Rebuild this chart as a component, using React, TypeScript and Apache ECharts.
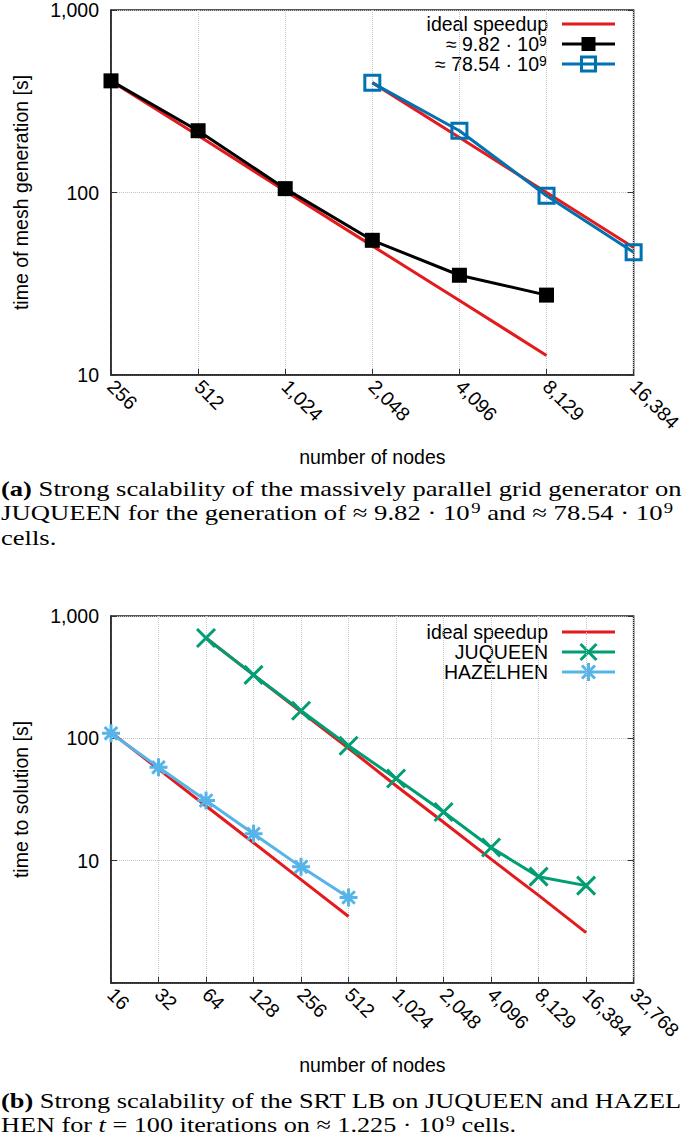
import React, { useEffect, useRef } from "react";
import * as echarts from "echarts";

// ---------- data ----------
const catsA = ["256", "512", "1,024", "2,048", "4,096", "8,129", "16,384"];
const idealA1 = [409, 205, 102, 51, 25.6, 12.8, null];
const idealA2 = [null, null, null, 400, 200, 100, 50];
const mesh982 = [409, 218, 105, 54.7, 35.2, 27.4, null];
const mesh7854 = [null, null, null, 399, 218, 96, 47];

const catsB = ["16", "32", "64", "128", "256", "512", "1,024", "2,048", "4,096", "8,129", "16,384", "32,768"];
const idealB1 = [112, 56, 28, 14, 7, 3.5, null, null, null, null, null, null];
const idealB2 = [null, null, 661, 330, 165, 83, 41, 20.6, 10.3, 5.2, 2.58, null];
const juqueen = [null, null, 661, 330, 168, 87, 47, 25, 12.8, 7.4, 6.25, null];
const hazelhen = [110, 58, 31, 16.6, 8.9, 5.0, null, null, null, null, null, null];

const RED = "#e41a1c";
const BLACK = "#000000";
const BLUE = "#0072b2";
const GREEN = "#009e73";
const LBLUE = "#56b4e9";

const SANS = "'Liberation Sans', Arial, sans-serif";
const SERIF = "'Liberation Serif', 'Times New Roman', serif";
const FS = 19.5;
const CFS = 22;

const fmt = (v: number) => (v < 10 ? "" : Math.round(v).toLocaleString("en-US"));

function measure(parts: [string, string][]) {
  const c = document.createElement("canvas").getContext("2d")!;
  let w = 0;
  for (const [kind, t] of parts) {
    const size = kind === "s" ? CFS * 0.7 : CFS;
    const pre = kind === "b" ? "bold " : kind === "i" ? "italic " : "";
    c.font = `${pre}${size}px ${SERIF}`;
    w += c.measureText(t).width + (kind === "s" ? 1 : 0);
  }
  return w;
}

export default function App() {
  const ref = useRef<HTMLDivElement>(null);
  useEffect(() => {
    document.body.style.margin = "0";
    const chart = echarts.init(ref.current!, undefined, { renderer: "svg" });

    const grids = [
      { left: 111, top: 9, width: 528, height: 366 },
      { left: 111, top: 616, width: 528, height: 367 },
    ].map((g) => ({ ...g, show: true, borderColor: "#222", borderWidth: 1.5, backgroundColor: "transparent" }));

    const xAxisBase = (gi: number, data: string[]) => ({
      type: "category",
      gridIndex: gi,
      data,
      boundaryGap: false,
      axisLine: { show: true, lineStyle: { color: "#222", width: 1.5 } },
      axisTick: { show: true, inside: true, length: 6, lineStyle: { color: "#333" } },
      axisLabel: { rotate: -45, fontSize: FS, fontFamily: SANS, color: "#000", margin: 8, interval: 0 },
      splitLine: { show: true, lineStyle: { type: "dotted", color: "#c4c4c4", width: 1 } },
      name: "number of nodes",
      nameLocation: "middle",
      nameGap: 72,
      nameTextStyle: { fontSize: FS, fontFamily: SANS, color: "#000" },
    });

    const yAxisBase = (gi: number, min: number, name: string) => ({
      type: "log",
      logBase: 10,
      gridIndex: gi,
      min,
      max: 1000,
      axisLine: { show: true, lineStyle: { color: "#222", width: 1.5 } },
      axisTick: { show: true, inside: true, length: 6, lineStyle: { color: "#333" } },
      minorTick: { show: false },
      axisLabel: { fontSize: FS, fontFamily: SANS, color: "#000", margin: 12, formatter: fmt },
      splitLine: { show: true, lineStyle: { type: "dotted", color: "#c4c4c4", width: 1 } },
      name,
      nameLocation: "middle",
      nameGap: 80,
      nameTextStyle: { fontSize: FS, fontFamily: SANS, color: "#000" },
    });

    const yRight = (gi: number, min: number) => ({
      type: "log",
      logBase: 10,
      gridIndex: gi,
      position: "right",
      min,
      max: 1000,
      axisLine: { show: false },
      axisTick: { show: true, inside: true, length: 6, lineStyle: { color: "#333" } },
      axisLabel: { show: false },
      splitLine: { show: false },
    });

    const line = (xi: number, yi: number, data: any[], color: string, extra: any = {}) => ({
      type: "line",
      xAxisIndex: xi,
      yAxisIndex: yi,
      data,
      symbol: "none",
      showAllSymbol: true,
      lineStyle: { color, width: 3 },
      itemStyle: { color },
      connectNulls: false,
      silent: true,
      ...extra,
    });

    const CROSS = "path://M0,0L10,10M10,0L0,10";
    const STAR = "path://M5,0L5,10M0,5L10,5M1.5,1.5L8.5,8.5M8.5,1.5L1.5,8.5";
    const SQUARE = "path://M0,0L10,0L10,10L0,10Z";

    const series = [
      line(0, 0, idealA1, RED),
      line(0, 0, idealA2, RED),
      line(0, 0, mesh982, BLACK, { symbol: "rect", symbolSize: 15, itemStyle: { color: BLACK } }),
      line(0, 0, mesh7854, BLUE, {
        symbol: SQUARE,
        symbolSize: 15,
        itemStyle: { color: "rgba(0,0,0,0)", borderColor: BLUE, borderWidth: 3 },
      }),
      line(1, 2, idealB1, RED),
      line(1, 2, idealB2, RED),
      line(1, 2, juqueen, GREEN, {
        symbol: CROSS,
        symbolSize: 18,
        itemStyle: { color: "rgba(0,0,0,0)", borderColor: GREEN, borderWidth: 3 },
      }),
      line(1, 2, hazelhen, LBLUE, {
        symbol: STAR,
        symbolSize: 18,
        itemStyle: { color: "rgba(0,0,0,0)", borderColor: LBLUE, borderWidth: 3 },
      }),
    ];

    // ---------- legends ----------
    const TX = 548;
    const L0 = 562;
    const L1 = 615;
    const MC = 588.5;
    const legendRow = (y: number, label: string, color: string, marker: any[] | null, sup?: boolean) => {
      const els: any[] = [];
      if (sup) {
        els.push({
          type: "text",
          x: TX - 9,
          y,
          style: { text: label, fontSize: FS, fontFamily: SANS, fill: "#000", align: "right", verticalAlign: "middle" },
        });
        els.push({
          type: "text",
          x: TX - 9,
          y: y - 3,
          style: { text: "9", fontSize: 14, fontFamily: SANS, fill: "#000", align: "left", verticalAlign: "middle" },
        });
      } else {
        els.push({
          type: "text",
          x: TX,
          y,
          style: { text: label, fontSize: FS, fontFamily: SANS, fill: "#000", align: "right", verticalAlign: "middle" },
        });
      }
      els.push({ type: "line", shape: { x1: L0, y1: y, x2: L1, y2: y }, style: { stroke: color, lineWidth: 3 } });
      if (marker) els.push(...marker);
      return els;
    };
    const sq = (y: number, filled: boolean, color: string) => ({
      type: "rect",
      shape: { x: MC - 7, y: y - 7, width: 14, height: 14 },
      style: filled ? { fill: color } : { fill: "none", stroke: color, lineWidth: 3 },
    });
    const cross = (y: number, color: string) => [
      { type: "line", shape: { x1: MC - 8, y1: y - 8, x2: MC + 8, y2: y + 8 }, style: { stroke: color, lineWidth: 3 } },
      { type: "line", shape: { x1: MC + 8, y1: y - 8, x2: MC - 8, y2: y + 8 }, style: { stroke: color, lineWidth: 3 } },
    ];
    const star = (y: number, color: string) => [
      { type: "line", shape: { x1: MC - 6.5, y1: y - 6.5, x2: MC + 6.5, y2: y + 6.5 }, style: { stroke: color, lineWidth: 3 } },
      { type: "line", shape: { x1: MC + 6.5, y1: y - 6.5, x2: MC - 6.5, y2: y + 6.5 }, style: { stroke: color, lineWidth: 3 } },
      { type: "line", shape: { x1: MC, y1: y - 9, x2: MC, y2: y + 9 }, style: { stroke: color, lineWidth: 3 } },
    ];

    const legA = [
      ...legendRow(24, "ideal speedup", RED, null),
      ...legendRow(44, "≈ 9.82 · 10", BLACK, [sq(44, true, BLACK)], true),
      ...legendRow(64, "≈ 78.54 · 10", BLUE, [sq(64, false, BLUE)], true),
    ];
    const legB = [
      ...legendRow(632, "ideal speedup", RED, null),
      ...legendRow(652, "JUQUEEN", GREEN, cross(652, GREEN)),
      ...legendRow(672, "HAZELHEN", LBLUE, star(672, LBLUE)),
    ];

    // ---------- captions ----------
    const rich = {
      b: { fontWeight: "bold", fontSize: CFS, fontFamily: SERIF, fill: "#000" },
      n: { fontSize: CFS, fontFamily: SERIF, fill: "#000" },
      i: { fontStyle: "italic", fontSize: CFS, fontFamily: SERIF, fill: "#000" },
      s: { fontSize: CFS * 0.7, fontFamily: SERIF, fill: "#000", verticalAlign: "top", padding: [0, 0, 0, 1] },
    };
    const capLines: { y: number; parts: [string, string][]; target?: number; scaleFrom?: number }[] = [
      { y: 488, parts: [["b", "(a)"], ["n", " Strong scalability of the massively parallel grid generator on"]], target: 681 },
      { y: 512, parts: [["n", "JUQUEEN for the generation of ≈ 9.82 · 10"], ["s", "9"], ["n", " and ≈ 78.54 · 10"], ["s", "9"]], target: 672 },
      { y: 537, parts: [["n", "cells."]], scaleFrom: 0 },
      { y: 1100, parts: [["b", "(b)"], ["n", " Strong scalability of the SRT LB on JUQUEEN and HAZEL"]], target: 681 },
      { y: 1124, parts: [["n", "HEN for "], ["i", "t"], ["n", " = 100 iterations on ≈ 1.225 · 10"], ["s", "9"], ["n", " cells."]], target: 515 },
    ];
    const scales: number[] = [];
    capLines.forEach((l, k) => {
      scales[k] = l.target ? l.target / measure(l.parts) : scales[l.scaleFrom!];
    });
    const captions = capLines.map((l, k) => ({
      type: "text",
      x: 1,
      y: l.y,
      scaleX: scales[k],
      style: {
        text: l.parts.map(([kind, t]) => `{${kind}|${t}}`).join(""),
        rich,
        fontSize: CFS,
        fontFamily: SERIF,
        fill: "#000",
        align: "left",
        verticalAlign: "middle",
      },
    }));

    chart.setOption({
      animation: false,
      backgroundColor: "#ffffff",
      grid: grids,
      xAxis: [xAxisBase(0, catsA), xAxisBase(1, catsB)],
      yAxis: [
        yAxisBase(0, 10, "time of mesh generation [s]"),
        yRight(0, 10),
        yAxisBase(1, 1, "time to solution [s]"),
        yRight(1, 1),
      ],
      series,
      graphic: [...legA, ...legB, ...captions],
    });
    return () => chart.dispose();
  }, []);
  return <div ref={ref} style={{ width: 685, height: 1142 }} />;
}
